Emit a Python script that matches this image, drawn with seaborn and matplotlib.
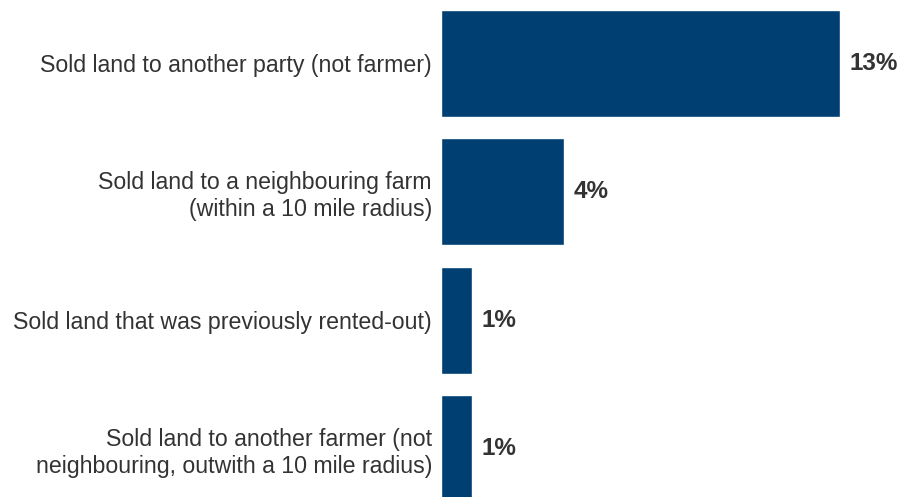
import matplotlib
matplotlib.use("Agg")
import matplotlib.pyplot as plt
import seaborn as sns
import pandas as pd

categories = [
    "Sold land to another party (not farmer)",
    "Sold land to a neighbouring farm\n(within a 10 mile radius)",
    "Sold land that was previously rented-out)",
    "Sold land to another farmer (not\nneighbouring, outwith a 10 mile radius)",
]
values = [13, 4, 1, 1]
value_labels = ["13%", "4%", "1%", "1%"]

sns.set_theme(style="white")
plt.rcParams["font.family"] = ["Liberation Sans", "DejaVu Sans"]

df = pd.DataFrame({"category": categories, "value": values})

fig = plt.figure(figsize=(9.03, 4.97), dpi=100)
ax = fig.add_axes([441 / 903, 0, 462 / 903, 1])

sns.barplot(data=df, x="value", y="category", orient="h", color="#003f72",
            saturation=1, width=0.833, ax=ax)

ax.set_xlim(0, 462 / 30.7)
ax.set_ylim(3.374, -0.494)

for i, (v, lab) in enumerate(zip(values, value_labels)):
    ax.annotate(lab, (v, i), xytext=(7, 0), textcoords="offset points",
                ha="left", va="center", fontsize=17.5, fontweight="bold",
                color="#333333")

ax.set_xlabel("")
ax.set_ylabel("")
ax.set_xticks([])
ax.tick_params(axis="y", length=0, pad=6.5, labelsize=16.7, labelcolor="#333333")
for lbl in ax.get_yticklabels():
    lbl.set_horizontalalignment("right")
    lbl.set_multialignment("right")
    lbl.set_linespacing(1.17)
sns.despine(ax=ax, left=True, bottom=True)

fig.savefig("out.png", dpi=100)
